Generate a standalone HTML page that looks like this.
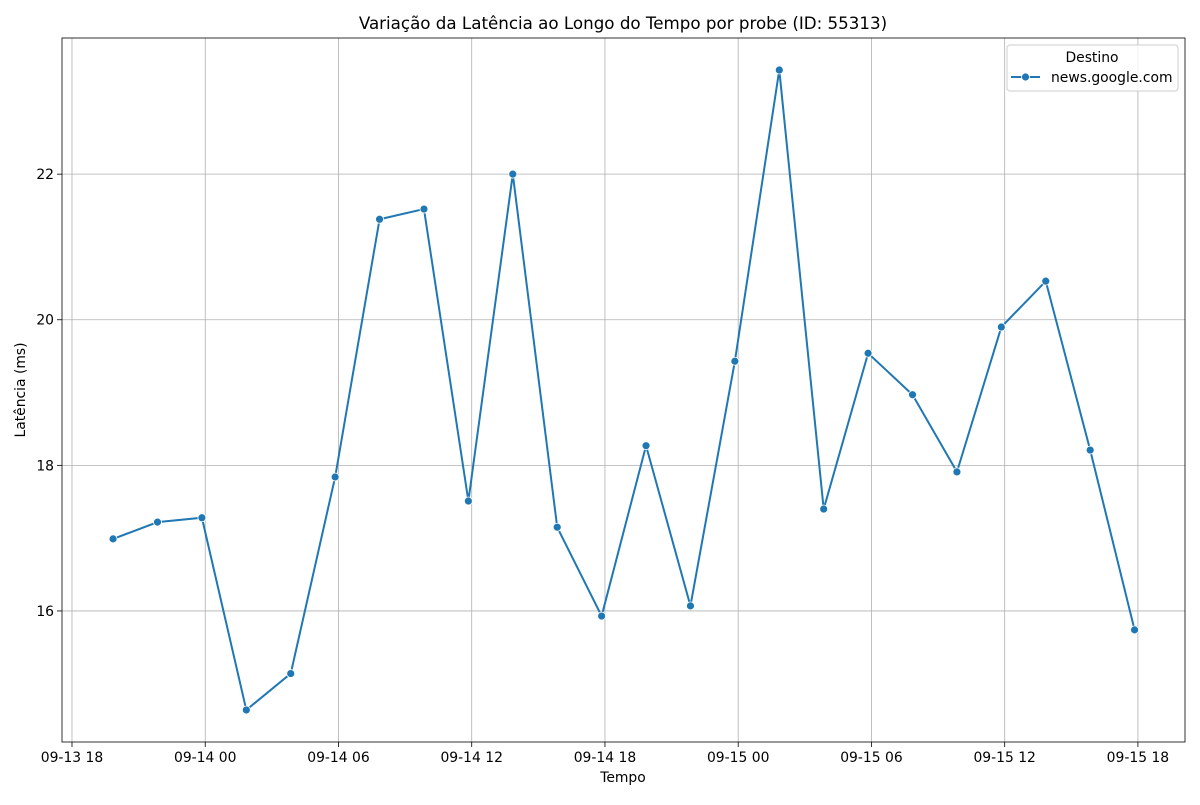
<!DOCTYPE html>
<html><head><meta charset="utf-8"><style>
body{margin:0;background:#fff}
svg{font-family:"DejaVu Sans","Liberation Sans",sans-serif}
</style></head><body>
<svg id="chart" width="1200" height="800"></svg>
<script>
const hours=[1.85,3.85,5.85,7.85,9.85,11.85,13.85,15.85,17.85,19.85,21.85,23.85,25.85,27.85,29.85,31.85,33.85,35.85,37.85,39.85,41.85,43.85,45.85,47.85];
const latency=[16.99,17.22,17.28,14.64,15.14,17.84,21.38,21.52,17.51,22.0,17.15,15.93,18.27,16.07,19.43,23.43,17.40,19.54,18.97,17.91,19.90,20.53,18.21,15.74];
const xTickHours=[0,6,12,18,24,30,36,42,48];
const xTickLabels=["09-13 18","09-14 00","09-14 06","09-14 12","09-14 18","09-15 00","09-15 06","09-15 12","09-15 18"];
const yTicks=[16,18,20,22];
const L=62,R=1185,T=38,B=742;
const xMin=-0.45,xMax=50.12,yMin=14.20,yMax=23.87;
const X=h=>L+(h-xMin)/(xMax-xMin)*(R-L);
const Y=v=>B-(v-yMin)/(yMax-yMin)*(B-T);
const svg=document.getElementById('chart');
const NS='http://www.w3.org/2000/svg';
function mk(tag,attrs,parent){const e=document.createElementNS(NS,tag);for(const k in attrs)e.setAttribute(k,attrs[k]);(parent||svg).appendChild(e);return e;}
const grid=mk('g',{});


xTickHours.forEach((h,i)=>{const x=X(h);
 mk('line',{x1:x,x2:x,y1:T,y2:B,stroke:'#b0b0b0','stroke-width':0.8},grid);
 mk('line',{x1:x,x2:x,y1:B,y2:B+5,stroke:'#000','stroke-width':0.8},grid);
 const t=mk('text',{x:x,y:B+20,'text-anchor':'middle','font-size':13.9});
 t.textContent=xTickLabels[i];
 
 
});
yTicks.forEach(v=>{const y=Y(v);
 mk('line',{x1:L,x2:R,y1:y,y2:y,stroke:'#b0b0b0','stroke-width':0.8},grid);
 mk('line',{x1:L-5,x2:L,y1:y,y2:y,stroke:'#000','stroke-width':0.8},grid);
 const t=mk('text',{x:L-8,y:y+5,'text-anchor':'end','font-size':13.9});
 t.textContent=v;
 
 
});
const pts=hours.map((h,i)=>X(h)+','+Y(latency[i])).join(' ');
const line=mk('polyline',{points:pts,fill:'none',stroke:'#1f77b4','stroke-width':2});


hours.forEach((h,i)=>{const c=mk('circle',{cx:X(h),cy:Y(latency[i]),r:4,fill:'#1f77b4',stroke:'#fff','stroke-width':0.8});
 
 
});
const frame=mk('rect',{x:L,y:T,width:R-L,height:B-T,fill:'none',stroke:'#000','stroke-width':0.8});


</script>
<svg width="1200" height="800" style="position:absolute;left:0;top:0">
<text x="623" y="29" text-anchor="middle" font-size="16.7">Variação da Latência ao Longo do Tempo por probe (ID: 55313)</text>
<text x="623" y="782" text-anchor="middle" font-size="13.9">Tempo</text>
<text x="25" y="390" text-anchor="middle" font-size="13.9" transform="rotate(-90 25 390)">Latência (ms)</text>
<g>
<rect x="1007" y="45" width="171" height="46" rx="3" fill="#fff" fill-opacity="0.8" stroke="#ccc"/>
<text x="1092" y="62" text-anchor="middle" font-size="13.9">Destino</text>
<line x1="1011" y1="77" x2="1040" y2="77" stroke="#1f77b4" stroke-width="2"/>
<circle cx="1025.5" cy="77" r="4" fill="#1f77b4" stroke="#fff" stroke-width="0.8"/>
<text x="1051" y="82" font-size="13.9">news.google.com</text>
</g>
</svg>
</body></html>
